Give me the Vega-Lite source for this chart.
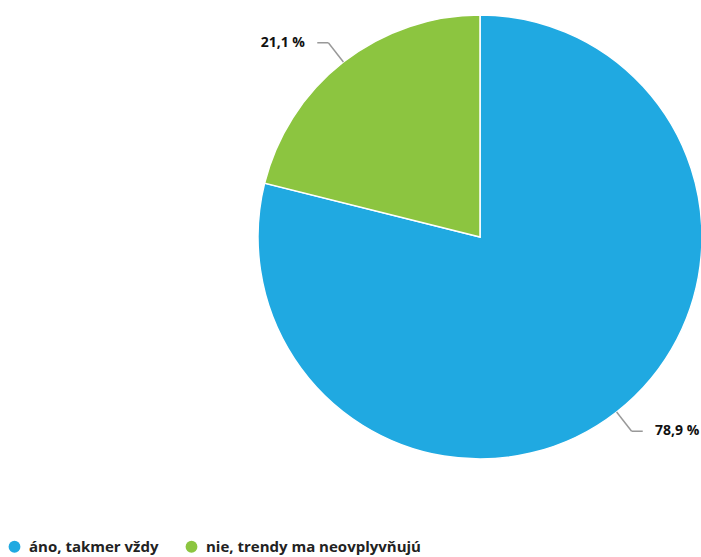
{
  "$schema": "https://vega.github.io/schema/vega-lite/v6.json",
  "width": 444,
  "height": 444,
  "autosize": {"type": "none"},
  "padding": {"left": 258, "top": 15, "right": 0, "bottom": 98},
  "background": "white",
  "config": {"view": {"stroke": null}},
  "data": {
    "values": [
      {"kategoria": "áno, takmer vždy", "podiel": 78.9, "poradie": 1},
      {"kategoria": "nie, trendy ma neovplyvňujú", "podiel": 21.1, "poradie": 2}
    ]
  },
  "layer": [
    {
      "mark": {"type": "arc", "stroke": "white", "strokeWidth": 1.5},
      "encoding": {
        "theta": {"field": "podiel", "type": "quantitative", "stack": true},
        "order": {"field": "poradie", "type": "quantitative"},
        "color": {
          "field": "kategoria",
          "type": "nominal",
          "sort": ["áno, takmer vždy", "nie, trendy ma neovplyvňujú"],
          "scale": {"domain": ["áno, takmer vždy", "nie, trendy ma neovplyvňujú"], "range": ["#20a9e1", "#8cc540"]},
          "legend": {
            "title": null,
            "orient": "none",
            "direction": "horizontal",
            "legendX": -251,
            "legendY": 524,
            "symbolType": "circle",
            "symbolSize": 140,
            "symbolStrokeWidth": 0,
            "labelFont": "Open Sans",
            "labelFontWeight": "bold",
            "labelFontSize": 15,
            "labelColor": "#222",
            "labelLimit": 0,
            "columnPadding": 25,
            "labelOffset": 7
          }
        }
      }
    },
    {
      "transform": [
        {"window": [{"op": "sum", "field": "podiel", "as": "kum"}], "sort": [{"field": "poradie"}], "frame": [null, 0]},
        {"calculate": "(datum.kum - datum.podiel / 2) / 100 * 2 * PI", "as": "uhol"},
        {"calculate": "sin(datum.uhol) > 0 ? 1 : -1", "as": "strana"},
        {"calculate": "sin(datum.uhol)", "as": "x1"},
        {"calculate": "cos(datum.uhol)", "as": "y1"},
        {"calculate": "1.11 * sin(datum.uhol)", "as": "x2"},
        {"calculate": "1.11 * cos(datum.uhol)", "as": "y2"},
        {"calculate": "datum.x2 + datum.strana * 0.05", "as": "x3"},
        {"calculate": "datum.x3 + datum.strana * 0.155", "as": "xt"},
        {"calculate": "replace(format(datum.podiel, '.1f'), '.', ',') + ' %'", "as": "stitok"}
      ],
      "layer": [
        {
          "mark": {"type": "rule", "color": "#999999", "strokeWidth": 1.5},
          "encoding": {
            "x": {"field": "x1", "type": "quantitative", "scale": {"domain": [-1, 1], "nice": false, "zero": false}, "axis": null},
            "y": {"field": "y1", "type": "quantitative", "scale": {"domain": [-1, 1], "nice": false, "zero": false}, "axis": null},
            "x2": {"field": "x2"},
            "y2": {"field": "y2"}
          }
        },
        {
          "mark": {"type": "rule", "color": "#999999", "strokeWidth": 1.5},
          "encoding": {
            "x": {"field": "x2", "type": "quantitative"},
            "y": {"field": "y2", "type": "quantitative"},
            "x2": {"field": "x3"}
          }
        },
        {
          "mark": {"type": "text", "font": "Open Sans", "fontWeight": "bold", "fontSize": 14, "color": "#111", "align": "center", "baseline": "middle"},
          "encoding": {
            "x": {"field": "xt", "type": "quantitative"},
            "y": {"field": "y2", "type": "quantitative"},
            "text": {"field": "stitok", "type": "nominal"}
          }
        }
      ]
    }
  ]
}
